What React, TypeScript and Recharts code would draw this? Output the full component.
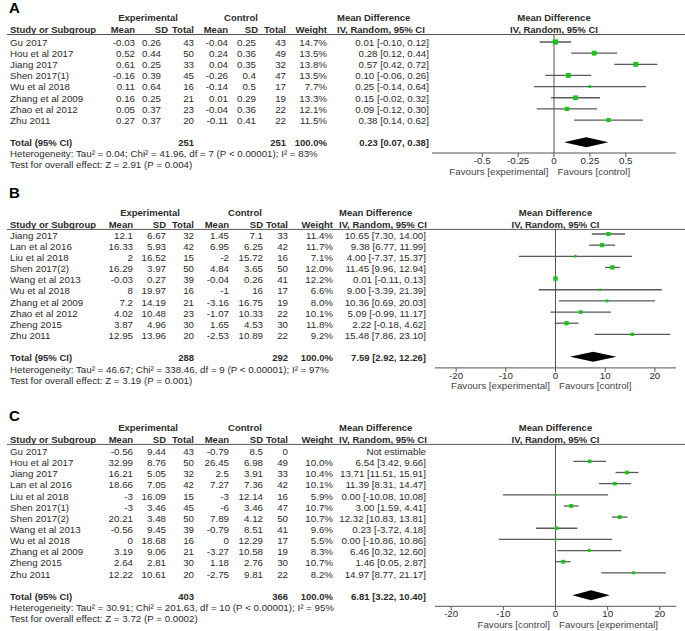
import React from 'react';
import { ScatterChart, Scatter, XAxis, YAxis, ErrorBar, ReferenceLine, ReferenceArea } from 'recharts';

// ---------- Panel A data ----------
const studiesA = ['Gu 2017', 'Hou et al 2017', 'Jiang 2017', 'Shen 2017(1)', 'Wu et al 2018', 'Zhang et al 2009', 'Zhao et al 2012', 'Zhu 2011'];
const expMeanA = [-0.03, 0.52, 0.61, -0.16, 0.11, 0.16, 0.05, 0.27];
const expSdA = [0.26, 0.44, 0.25, 0.39, 0.64, 0.25, 0.37, 0.37];
const expNA = [43, 50, 33, 45, 16, 21, 23, 20];
const ctlMeanA = [-0.04, 0.24, 0.04, -0.26, -0.14, 0.01, -0.04, -0.11];
const ctlSdA = [0.25, 0.36, 0.35, 0.4, 0.5, 0.29, 0.36, 0.41];
const ctlNA = [43, 49, 32, 47, 17, 19, 22, 22];
const weightA = [14.7, 13.5, 13.8, 13.5, 7.7, 13.3, 12.1, 11.5];
const mdA = [0.01, 0.28, 0.57, 0.1, 0.25, 0.15, 0.09, 0.38];
const loA = [-0.1, 0.12, 0.42, -0.06, -0.14, -0.02, -0.12, 0.14];
const hiA = [0.12, 0.44, 0.72, 0.26, 0.64, 0.32, 0.3, 0.62];
const totalNA = [251, 251];
const pooledA = [0.23, 0.07, 0.38];
const hetA = 'Heterogeneity: Tau\u00b2 = 0.04; Chi\u00b2 = 41.96, df = 7 (P < 0.00001); I\u00b2 = 83%';
const testA = 'Test for overall effect: Z = 2.91 (P = 0.004)';
const ticksA = [-0.5, -0.25, 0, 0.25, 0.5];
const favoursA = ['Favours [experimental]', 'Favours [control]'];

// ---------- Panel B data ----------
const studiesB = ['Jiang 2017', 'Lan et al 2016', 'Liu et al 2018', 'Shen 2017(2)', 'Wang et al 2013', 'Wu et al 2018', 'Zhang et al 2009', 'Zhao et al 2012', 'Zheng 2015', 'Zhu 2011'];
const expMeanB = [12.1, 16.33, 2, 16.29, -0.03, 8, 7.2, 4.02, 3.87, 12.95];
const expSdB = [6.67, 5.93, 16.52, 3.97, 0.27, 19.97, 14.19, 10.48, 4.96, 13.96];
const expNB = [32, 42, 15, 50, 39, 16, 21, 23, 30, 20];
const ctlMeanB = [1.45, 6.95, -2, 4.84, -0.04, -1, -3.16, -1.07, 1.65, -2.53];
const ctlSdB = [7.1, 6.25, 15.72, 3.65, 0.26, 16, 16.75, 10.33, 4.53, 10.89];
const ctlNB = [33, 42, 16, 50, 41, 17, 19, 22, 30, 22];
const weightB = [11.4, 11.7, 7.1, 12.0, 12.2, 6.6, 8.0, 10.1, 11.8, 9.2];
const mdB = [10.65, 9.38, 4.0, 11.45, 0.01, 9.0, 10.36, 5.09, 2.22, 15.48];
const loB = [7.3, 6.77, -7.37, 9.96, -0.11, -3.39, 0.69, -0.99, -0.18, 7.86];
const hiB = [14.0, 11.99, 15.37, 12.94, 0.13, 21.39, 20.03, 11.17, 4.62, 23.1];
const totalNB = [288, 292];
const pooledB = [7.59, 2.92, 12.26];
const hetB = 'Heterogeneity: Tau\u00b2 = 46.67; Chi\u00b2 = 338.46, df = 9 (P < 0.00001); I\u00b2 = 97%';
const testB = 'Test for overall effect: Z = 3.19 (P = 0.001)';
const ticksB = [-20, -10, 0, 10, 20];
const favoursB = ['Favours [experimental]', 'Favours [control]'];

// ---------- Panel C data ----------
const studiesC = ['Gu 2017', 'Hou et al 2017', 'Jiang 2017', 'Lan et al 2016', 'Liu et al 2018', 'Shen 2017(1)', 'Shen 2017(2)', 'Wang et al 2013', 'Wu et al 2018', 'Zhang et al 2009', 'Zheng 2015', 'Zhu 2011'];
const expMeanC = [-0.56, 32.99, 16.21, 18.66, -3, -3, 20.21, -0.56, 0, 3.19, 2.64, 12.22];
const expSdC = [9.44, 8.76, 5.05, 7.05, 16.09, 3.46, 3.48, 9.45, 18.68, 9.06, 2.81, 10.61];
const expNC = [43, 50, 32, 42, 15, 45, 50, 39, 16, 21, 30, 20];
const ctlMeanC = [-0.79, 26.45, 2.5, 7.27, -3, -6, 7.89, -0.79, 0, -3.27, 1.18, -2.75];
const ctlSdC = [8.5, 6.98, 3.91, 7.36, 12.14, 3.46, 4.12, 8.51, 12.29, 10.58, 2.76, 9.81];
const ctlNC = [0, 49, 33, 42, 16, 47, 50, 41, 17, 19, 30, 22];
const weightC = [null, 10.0, 10.4, 10.1, 5.9, 10.7, 10.7, 9.6, 5.5, 8.3, 10.7, 8.2];
const mdC = [null, 6.54, 13.71, 11.39, 0.0, 3.0, 12.32, 0.23, 0.0, 6.46, 1.46, 14.97];
const loC = [null, 3.42, 11.51, 8.31, -10.08, 1.59, 10.83, -3.72, -10.86, 0.32, 0.05, 8.77];
const hiC = [null, 9.66, 15.91, 14.47, 10.08, 4.41, 13.81, 4.18, 10.86, 12.6, 2.87, 21.17];
const totalNC = [403, 366];
const pooledC = [6.81, 3.22, 10.4];
const hetC = 'Heterogeneity: Tau\u00b2 = 30.91; Chi\u00b2 = 201.63, df = 10 (P < 0.00001); I\u00b2 = 95%';
const testC = 'Test for overall effect: Z = 3.72 (P = 0.0002)';
const ticksC = [-20, -10, 0, 10, 20];
const favoursC = ['Favours [control]', 'Favours [experimental]'];

// ---------- styles / layout ----------
const FONT = '"Liberation Sans", Arial, Helvetica, sans-serif';
const TXT = '#2b2b2b';
const GRID = '#555';
const GREEN = '#14c814';
const STEP = 11.15;
const FS = 9.75;
const FSB = 9.5;

type Cols = { expMean: number; expSd: number; expN: number; ctlMean: number; ctlSd: number; ctlN: number; weight: number; ci: number };

const colsA: Cols = { expMean: 135, expSd: 161, expN: 194, ctlMean: 228, ctlSd: 256, ctlN: 286, weight: 327, ci: 429 };
const hcolsA: Cols = { expMean: 135, expSd: 168, expN: 194, ctlMean: 228, ctlSd: 258, ctlN: 286, weight: 327, ci: 337 };
const colsBC: Cols = { expMean: 133, expSd: 166, expN: 194, ctlMean: 229, ctlSd: 263, ctlN: 288, weight: 333, ci: 426 };
const hcolsBC: Cols = { expMean: 133, expSd: 166, expN: 194, ctlMean: 229, ctlSd: 263, ctlN: 288, weight: 333, ci: 339 };

const panels = [
  {
    letter: 'A', letterY: 13, row0: 41.5, lineY: 34.5, axisY: 152.5, plotL: 432, plotR: 676, xDomain: [-0.85, 0.85],
    cols: colsA, hcols: hcolsA, expC: 148, ctlC: 241,
    studies: studiesA, expMean: expMeanA, expSd: expSdA, expN: expNA, ctlMean: ctlMeanA, ctlSd: ctlSdA, ctlN: ctlNA,
    weight: weightA as (number | null)[], md: mdA as (number | null)[], lo: loA as (number | null)[], hi: hiA as (number | null)[],
    totalN: totalNA, pooled: pooledA, het: hetA, test: testA, ticks: ticksA, favours: favoursA,
  },
  {
    letter: 'B', letterY: 198, row0: 234.4, lineY: 229.4, axisY: 368.3, plotL: 435, plotR: 676, xDomain: [-24.25, 24.25],
    cols: colsBC, hcols: hcolsBC, expC: 150, ctlC: 245,
    studies: studiesB, expMean: expMeanB, expSd: expSdB, expN: expNB, ctlMean: ctlMeanB, ctlSd: ctlSdB, ctlN: ctlNB,
    weight: weightB as (number | null)[], md: mdB as (number | null)[], lo: loB as (number | null)[], hi: hiB as (number | null)[],
    totalN: totalNB, pooled: pooledB, het: hetB, test: testB, ticks: ticksB, favours: favoursB,
  },
  {
    letter: 'C', letterY: 421, row0: 450.6, lineY: 444.4, axisY: 606.7, plotL: 435, plotR: 676, xDomain: [-23.1, 23.1],
    cols: colsBC, hcols: hcolsBC, expC: 148, ctlC: 245,
    studies: studiesC, expMean: expMeanC, expSd: expSdC, expN: expNC, ctlMean: ctlMeanC, ctlSd: ctlSdC, ctlN: ctlNC,
    weight: weightC, md: mdC, lo: loC, hi: hiC,
    totalN: totalNC, pooled: pooledC, het: hetC, test: testC, ticks: ticksC, favours: favoursC,
  },
];

type Panel = typeof panels[number];

const f2 = (v: number) => v.toFixed(2);

function Square(props: any) {
  const { cx, cy, payload } = props;
  if (cx == null || cy == null || !payload) return <g />;
  const s = Math.max(2, payload.w * 0.36);
  return <rect x={cx - s / 2} y={cy - s / 2} width={s} height={s} fill={GREEN} />;
}

function Diamond(props: any) {
  const { x, y, width, height } = props;
  if (x == null) return <g />;
  const pts = `${x},${y + height / 2} ${x + width / 2},${y} ${x + width},${y + height / 2} ${x + width / 2},${y + height}`;
  return <polygon points={pts} fill="#000" />;
}

const makeFavLabel = (left: string, right: string) => (props: any) => {
  const vb = props.viewBox || {};
  const x = vb.x ?? 0;
  const y = (vb.y ?? 0) + (vb.height ?? 0) + 21.5;
  return (
    <g>
      <text x={x - 5.5} y={y} textAnchor="end" fontSize={FS} fontFamily={FONT} fill="#444">{left}</text>
      <text x={x + 3.5} y={y} textAnchor="start" fontSize={FS} fontFamily={FONT} fill="#444">{right}</text>
    </g>
  );
};

function ForestChart({ p }: { p: Panel }) {
  const w = p.plotR - p.plotL;
  const h = p.axisY - p.lineY;
  const yDomain = [(p.lineY - p.row0) / STEP, (p.axisY - p.row0) / STEP];
  const pts = p.studies
    .map((_, i) => ({ i, md: p.md[i], lo: p.lo[i], hi: p.hi[i], w: p.weight[i] }))
    .filter((d) => d.md != null)
    .map((d) => ({ x: d.md as number, y: d.i, w: d.w as number, err: [(d.md as number) - (d.lo as number), (d.hi as number) - (d.md as number)] }));
  const totalRow = p.studies.length + 1;
  return (
    <div style={{ position: 'absolute', left: p.plotL, top: p.lineY, width: w, height: h + 30 }}>
      <ScatterChart width={w} height={h + 30} margin={{ top: 0, right: 0, bottom: 0, left: 0 }} style={{ overflow: 'visible' }}>
        <XAxis
          type="number"
          dataKey="x"
          domain={p.xDomain}
          ticks={p.ticks}
          interval={0}
          allowDataOverflow
          tickSize={4}
          tickMargin={0}
          height={30}
          axisLine={{ stroke: GRID }}
          tickLine={{ stroke: GRID }}
          tick={{ fill: TXT, fontSize: FS, fontFamily: FONT }}
          tickFormatter={(v: number) => String(v)}
        />
        <YAxis type="number" dataKey="y" domain={yDomain} reversed hide width={0} allowDataOverflow />
        <ReferenceLine x={0} stroke={GRID} strokeWidth={1} ifOverflow="visible" label={makeFavLabel(p.favours[0], p.favours[1])} />
        <ReferenceArea x1={p.pooled[1]} x2={p.pooled[2]} y1={totalRow - 0.45} y2={totalRow + 0.45} shape={Diamond} ifOverflow="visible" fill="#000" fillOpacity={1} />
        <Scatter data={pts} shape={() => <g />} isAnimationActive={false}>
          <ErrorBar dataKey="err" direction="x" width={0} stroke="#5a5a5a" strokeWidth={1.3} isAnimationActive={false} />
        </Scatter>
        <Scatter data={pts} shape={Square} isAnimationActive={false} />
      </ScatterChart>
    </div>
  );
}

function T({ x, y, a = 'end', b = false, children }: { x: number; y: number; a?: string; b?: boolean; children: React.ReactNode }) {
  return (
    <text x={x} y={y} textAnchor={a as any} fontSize={b ? FSB : FS} fontWeight={b ? 'bold' : 'normal'} fontFamily={FONT} fill={TXT}>
      {children}
    </text>
  );
}

function Table({ p }: { p: Panel }) {
  const c = p.cols;
  const hc = p.hcols;
  const base = (i: number) => p.row0 + 0.8 + i * STEP + 3.5;
  const h2 = p.lineY - 1.8;
  const h1 = h2 - 11.5;
  const mid = (p.plotL + p.plotR) / 2;
  const totalRow = p.studies.length + 1;
  return (
    <g>
      <text x={9} y={p.letterY} fontSize={15} fontWeight="bold" fontFamily={FONT} fill="#000">{p.letter}</text>
      <T x={p.expC} y={h1} a="middle" b>Experimental</T>
      <T x={p.ctlC} y={h1} a="middle" b>Control</T>
      <T x={hc.ci} y={h1} a="start" b>Mean Difference</T>
      <T x={mid} y={h1} a="middle" b>Mean Difference</T>
      <T x={10} y={h2} a="start" b>Study or Subgroup</T>
      <T x={hc.expMean} y={h2} b>Mean</T>
      <T x={hc.expSd} y={h2} b>SD</T>
      <T x={hc.expN} y={h2} b>Total</T>
      <T x={hc.ctlMean} y={h2} b>Mean</T>
      <T x={hc.ctlSd} y={h2} b>SD</T>
      <T x={hc.ctlN} y={h2} b>Total</T>
      <T x={hc.weight} y={h2} b>Weight</T>
      <T x={hc.ci} y={h2} a="start" b>IV, Random, 95% CI</T>
      <T x={mid} y={h2} a="middle" b>IV, Random, 95% CI</T>
      <line x1={7} x2={685} y1={p.lineY} y2={p.lineY} stroke={GRID} strokeWidth={1} />
      {p.studies.map((s, i) => {
        const y = base(i);
        const md = p.md[i];
        const wt = p.weight[i];
        return (
          <g key={s + i}>
            <T x={10} y={y} a="start">{s}</T>
            <T x={c.expMean} y={y}>{String(p.expMean[i])}</T>
            <T x={c.expSd} y={y}>{String(p.expSd[i])}</T>
            <T x={c.expN} y={y}>{String(p.expN[i])}</T>
            <T x={c.ctlMean} y={y}>{String(p.ctlMean[i])}</T>
            <T x={c.ctlSd} y={y}>{String(p.ctlSd[i])}</T>
            <T x={c.ctlN} y={y}>{String(p.ctlN[i])}</T>
            <T x={c.weight} y={y}>{wt == null ? '' : wt.toFixed(1) + '%'}</T>
            <T x={c.ci} y={y}>{md == null ? 'Not estimable' : `${f2(md)} [${f2(p.lo[i] as number)}, ${f2(p.hi[i] as number)}]`}</T>
          </g>
        );
      })}
      <T x={10} y={base(totalRow)} a="start" b>Total (95% CI)</T>
      <T x={c.expN} y={base(totalRow)} b>{String(p.totalN[0])}</T>
      <T x={c.ctlN} y={base(totalRow)} b>{String(p.totalN[1])}</T>
      <T x={c.weight} y={base(totalRow)} b>100.0%</T>
      <T x={c.ci} y={base(totalRow)} b>{`${f2(p.pooled[0])} [${f2(p.pooled[1])}, ${f2(p.pooled[2])}]`}</T>
      <T x={10} y={base(totalRow + 1)} a="start">{p.het}</T>
      <T x={10} y={base(totalRow + 2)} a="start">{p.test}</T>
    </g>
  );
}

export default function App() {
  return (
    <div style={{ position: 'absolute', left: 0, top: 0, width: 685, height: 631, background: '#fff', overflow: 'hidden' }}>
      <svg width={685} height={631} style={{ position: 'absolute', left: 0, top: 0 }}>
        {panels.map((p) => (
          <Table key={p.letter} p={p} />
        ))}
      </svg>
      {panels.map((p) => (
        <ForestChart key={p.letter} p={p} />
      ))}
    </div>
  );
}
